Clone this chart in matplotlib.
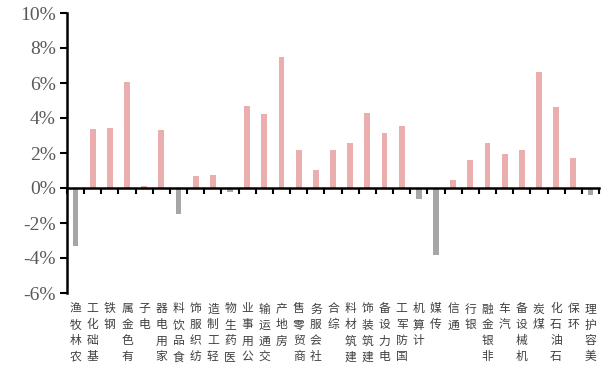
import matplotlib
matplotlib.use("Agg")
import matplotlib.pyplot as plt
import numpy as np

# 行业涨跌幅
categories = ["农林牧渔", "基础化工", "钢铁", "有色金属", "电子", "家用电器", "食品饮料",
              "纺织服饰", "轻工制造", "医药生物", "公用事业", "交通运输", "房地产", "商贸零售",
              "社会服务", "综合", "建筑材料", "建筑装饰", "电力设备", "国防军工", "计算机",
              "传媒", "通信", "银行", "非银金融", "汽车", "机械设备", "煤炭", "石油石化",
              "环保", "美容护理"]
values = [-3.30, 3.35, 3.43, 6.04, 0.10, 3.31, -1.47,
          0.70, 0.76, -0.25, 4.67, 4.21, 7.50, 2.15,
          1.03, 2.17, 2.57, 4.27, 3.14, 3.54, -0.63,
          -3.81, 0.46, 1.58, 2.55, 1.92, 2.15, 6.63, 4.63,
          1.71, -0.42]
yticks = [-6, -4, -2, 0, 2, 4, 6, 8, 10]

pos_color = "#E9AEAD"
neg_color = "#A6A6A6"

fig = plt.figure(figsize=(6.08, 3.70), dpi=100)
ax = fig.add_axes([67 / 608, 1 - 293 / 370, 532 / 608, 280 / 370])

x = np.arange(len(categories))
colors = [pos_color if v >= 0 else neg_color for v in values]
ax.bar(x, values, width=0.34, color=colors, zorder=2)

ax.set_xlim(-0.5, len(categories) - 0.5)
ax.set_ylim(-6, 10)

# y axis
ax.set_yticks(yticks)
ax.set_yticklabels([f"{t}%" for t in yticks], fontfamily="Liberation Serif",
                   fontsize=14, color="#595959")
ax.tick_params(axis="y", direction="out", length=5, width=1.5, pad=3)

# x axis drawn along zero
ax.spines["bottom"].set_position(("data", 0))
ax.spines["bottom"].set_linewidth(1.8)
ax.spines["left"].set_linewidth(1.8)
ax.spines["top"].set_visible(False)
ax.spines["right"].set_visible(False)
ax.set_xticks(np.arange(len(categories) + 1) - 0.5)
ax.set_xticklabels([])
ax.tick_params(axis="x", direction="out", length=4, width=1.5)

# vertical category labels, characters stacked bottom-to-top
step = 16 * 0.72
for i, name in enumerate(categories):
    for k, ch in enumerate(reversed(name)):
        ax.annotate(ch, xy=(i, -6), xycoords="data",
                    xytext=(0, -11.5 - k * step), textcoords="offset points",
                    ha="center", va="center", fontsize=8.5,
                    fontfamily=["Noto Sans CJK SC", "DejaVu Sans"],
                    color="#404040", annotation_clip=False)

fig.savefig("out.png", dpi=100)
